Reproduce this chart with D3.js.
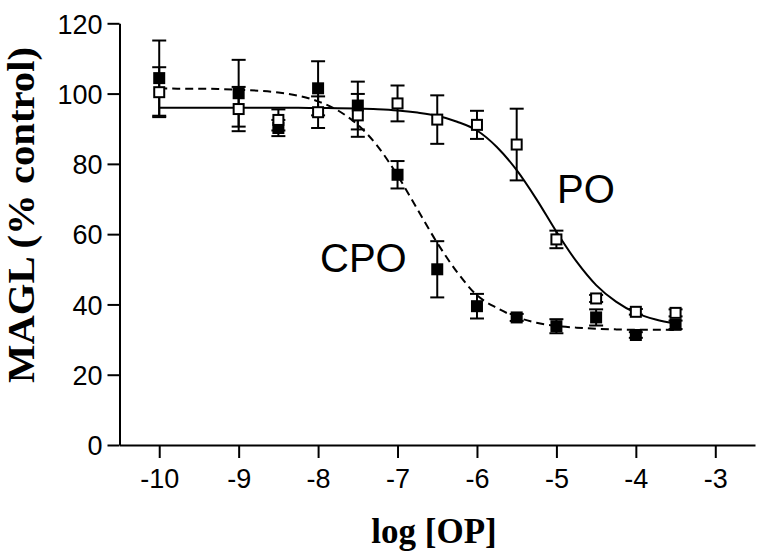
<!DOCTYPE html>
<html>
<head>
<meta charset="utf-8">
<script src="https://cdn.jsdelivr.net/npm/d3@7"></script>
<style>
  html, body { margin: 0; padding: 0; background: #fff; }
  svg { display: block; }
</style>
</head>
<body>
<svg id="chart" width="762" height="557"></svg>
<script>
// ---- data ----
const logConc = [-10, -9, -8.5, -8, -7.5, -7, -6.5, -6, -5.5, -5, -4.5, -4, -3.5];
const cpoMean = [104.4, 100.1, 90.2, 101.5, 96.6, 76.9, 50.0, 39.5, 36.3, 33.8, 36.3, 31.3, 34.2];
const cpoErr  = [10.7, 9.5, 2.3, 7.7, 6.8, 3.9, 8.0, 3.5, 1.0, 2.0, 2.3, 0.8, 1.2];
const poMean  = [100.4, 95.6, 92.5, 94.7, 93.8, 97.2, 92.6, 91.1, 85.5, 58.5, 41.7, 37.9, 37.6];
const poErr   = [7.1, 6.3, 3.0, 4.5, 6.1, 5.1, 6.9, 4.0, 10.2, 2.5, 1.0, 0.8, 1.0];

// fitted curves, values
const curveX   = [-10, -9.75, -9.5, -9.25, -9, -8.75, -8.5, -8.25, -8, -7.75, -7.5, -7.25, -7, -6.75, -6.5, -6.25, -6, -5.75, -5.5, -5.25, -5, -4.75, -4.5, -4.25, -4, -3.75, -3.5];
const poCurve  = [96.0, 96.0, 96.0, 96.0, 96.0, 96.0, 96.0, 95.96, 95.9, 95.85, 95.75, 95.55, 95.2, 94.6, 93.7, 92.0, 89.5, 84.8, 78.2, 69.9, 60.7, 52.3, 45.5, 40.8, 37.6, 35.7, 34.5];
const cpoCurve = [101.5, 101.4, 101.4, 101.3, 101.1, 100.8, 100.3, 99.4, 97.8, 95.2, 91.1, 85.0, 76.7, 67.1, 57.5, 49.2, 42.6, 39.0, 36.4, 34.8, 33.9, 33.4, 33.1, 32.9, 32.8, 32.8, 32.7];

const xTicks = [-10, -9, -8, -7, -6, -5, -4, -3];
const yTicks = [0, 20, 40, 60, 80, 100, 120];
const xTitle = "log [OP]";
const yTitle = "MAGL (% control)";

// ---- layout ----
const svg = d3.select("#chart");
const x = d3.scaleLinear().domain([-10.5, -2.5]).range([119.5, 755]);
const y = d3.scaleLinear().domain([0, 120]).range([445, 23.3]);

const tickFont = "Arial, 'Liberation Sans', sans-serif";
const titleFont = "'Times New Roman', 'Liberation Serif', serif";

// axes
const gx = svg.append("g").attr("transform", `translate(0,${y(0)})`)
  .call(d3.axisBottom(x).tickValues(xTicks).tickFormat(d3.format("d"))
    .tickSize(13).tickSizeOuter(0).tickPadding(11));
const gy = svg.append("g").attr("transform", `translate(${x(-10.5)},0)`)
  .call(d3.axisLeft(y).tickValues(yTicks).tickFormat(d3.format("d"))
    .tickSize(12).tickSizeOuter(0).tickPadding(5));

[gx, gy].forEach(g => {
  g.select(".domain").attr("stroke", "#000").attr("stroke-width", 2);
  g.selectAll(".tick line").attr("stroke", "#000").attr("stroke-width", 2);
  g.selectAll(".tick text")
    .attr("fill", "#000")
    .style("font-family", tickFont)
    .style("font-size", "27px");
});
gx.selectAll(".tick text").text(d => d3.format("d")(d).replace("\u2212", "-"));
gy.selectAll(".tick text").attr("dy", "0.36em");

// titles
svg.append("text")
  .attr("x", 434).attr("y", 543)
  .attr("text-anchor", "middle")
  .style("font-family", titleFont)
  .style("font-weight", "bold")
  .style("font-size", "35px")
  .text(xTitle);

svg.append("text")
  .attr("transform", `translate(34,215) rotate(-90)`)
  .attr("text-anchor", "middle")
  .attr("textLength", 336)
  .attr("lengthAdjust", "spacingAndGlyphs")
  .style("font-family", titleFont)
  .style("font-weight", "bold")
  .style("font-size", "38px")
  .text(yTitle);

// curves
const line = d3.line().x(d => x(d[0])).y(d => y(d[1])).curve(d3.curveMonotoneX);
svg.append("path")
  .datum(curveX.map((v, i) => [v, poCurve[i]]))
  .attr("d", line)
  .attr("fill", "none").attr("stroke", "#000").attr("stroke-width", 2);
svg.append("path")
  .datum(curveX.map((v, i) => [v, cpoCurve[i]]))
  .attr("d", line)
  .attr("fill", "none").attr("stroke", "#000").attr("stroke-width", 2)
  .attr("stroke-dasharray", "8,5");

// error bars
const capW = 14;
function errorBars(means, errs) {
  const g = svg.append("g").attr("stroke", "#000").attr("stroke-width", 2);
  logConc.forEach((c, i) => {
    const cx = x(c), top = y(means[i] + errs[i]), bot = y(means[i] - errs[i]);
    g.append("line").attr("x1", cx).attr("x2", cx).attr("y1", top).attr("y2", bot);
    g.append("line").attr("x1", cx - capW / 2).attr("x2", cx + capW / 2).attr("y1", top).attr("y2", top);
    g.append("line").attr("x1", cx - capW / 2).attr("x2", cx + capW / 2).attr("y1", bot).attr("y2", bot);
  });
}
errorBars(poMean, poErr);
errorBars(cpoMean, cpoErr);

// markers
const sq = 12;
svg.append("g").selectAll("rect").data(logConc).join("rect")
  .attr("x", (d) => x(d) - sq / 2 + 1)
  .attr("y", (d, i) => y(cpoMean[i]) - sq / 2 + 1)
  .attr("width", sq - 2).attr("height", sq - 2)
  .attr("fill", "#000").attr("stroke", "#000").attr("stroke-width", 2);
svg.append("g").selectAll("rect").data(logConc).join("rect")
  .attr("x", (d) => x(d) - sq / 2 + 1)
  .attr("y", (d, i) => y(poMean[i]) - sq / 2 + 1)
  .attr("width", sq - 2).attr("height", sq - 2)
  .attr("fill", "#fff").attr("stroke", "#000").attr("stroke-width", 2);

// series labels
svg.append("text").attr("x", 320).attr("y", 272)
  .style("font-family", tickFont).style("font-size", "40px").text("CPO");
svg.append("text").attr("x", 557).attr("y", 203)
  .style("font-family", tickFont).style("font-size", "40px").text("PO");
</script>
</body>
</html>
